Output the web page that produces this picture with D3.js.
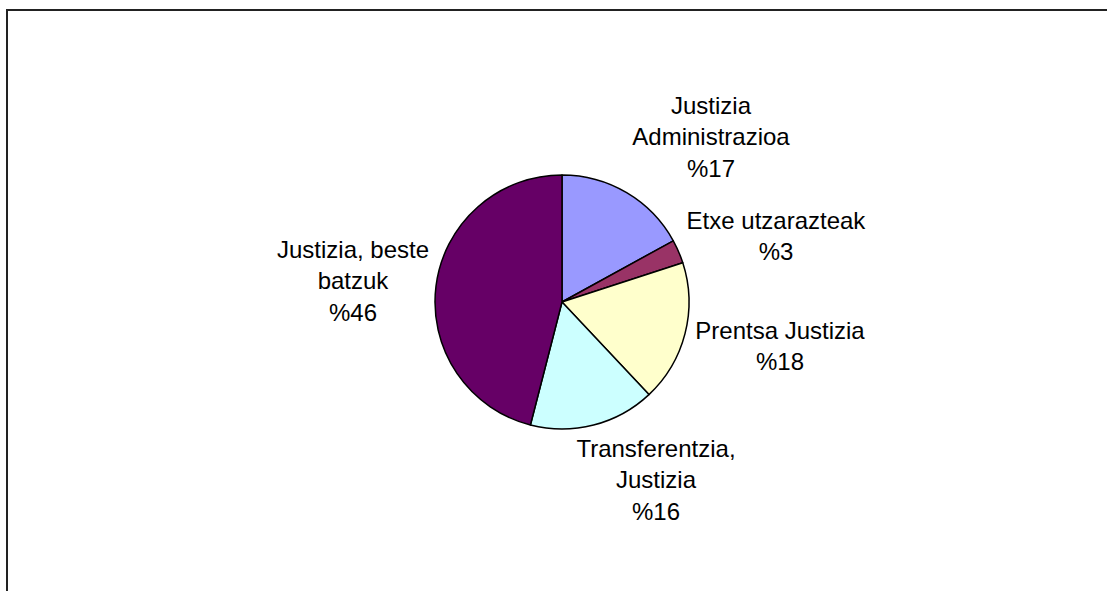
<!DOCTYPE html>
<html>
<head>
<meta charset="utf-8">
<script src="https://cdn.jsdelivr.net/npm/d3@7"></script>
<style>
  body { margin: 0; background: #fff; }
  svg { display: block; }
</style>
</head>
<body>
<script>
const categories = ["Justizia Administrazioa", "Etxe utzarazteak", "Prentsa Justizia", "Transferentzia, Justizia", "Justizia, beste batzuk"];
const values = [17, 3, 18, 16, 46];
const colors = ["#9999FF", "#993366", "#FFFFCC", "#CCFFFF", "#660066"];
// label lines as they wrap in the picture
const labelLines = [
  ["Justizia", "Administrazioa", "%17"],
  ["Etxe utzarazteak", "%3"],
  ["Prentsa Justizia", "%18"],
  ["Transferentzia,", "Justizia", "%16"],
  ["Justizia, beste", "batzuk", "%46"]
];
// label anchor: center x, first baseline
const labelPos = [
  [711, 114], [776, 229], [780, 339], [656, 457], [353, 258]
];

const W = 1107, H = 591;
const cx = 562, cy = 302, r = 127;
const lineH = 31.3;

const svg = d3.select("body").append("svg")
    .attr("width", W)
    .attr("height", H);

// outer frame (right and bottom run off the picture)
svg.append("rect")
    .attr("x", 7)
    .attr("y", 10)
    .attr("width", W + 20)
    .attr("height", H + 20)
    .attr("fill", "none")
    .attr("stroke", "#222")
    .attr("stroke-width", 2);

const pie = d3.pie().sort(null).value(d => d)(values);
const arc = d3.arc().innerRadius(0).outerRadius(r);

const g = svg.append("g")
    .attr("transform", "translate(" + cx + "," + cy + ")");

g.selectAll("path")
    .data(pie)
  .enter().append("path")
    .attr("d", arc)
    .attr("fill", (d, i) => colors[i])
    .attr("stroke", "#000")
    .attr("stroke-width", 1.5)
    .attr("stroke-linejoin", "round");

const labels = svg.selectAll(".lbl")
    .data(categories)
  .enter().append("text")
    .attr("class", "lbl")
    .attr("text-anchor", "middle")
    .style("font-family", "'Liberation Sans', Arial, sans-serif")
    .style("font-size", "24px")
    .style("fill", "#000");

labels.each(function(d, i) {
  const t = d3.select(this);
  labelLines[i].forEach((line, j) => {
    t.append("tspan")
        .attr("x", labelPos[i][0])
        .attr("y", labelPos[i][1] + j * lineH)
        .text(line);
  });
});
</script>
</body>
</html>
